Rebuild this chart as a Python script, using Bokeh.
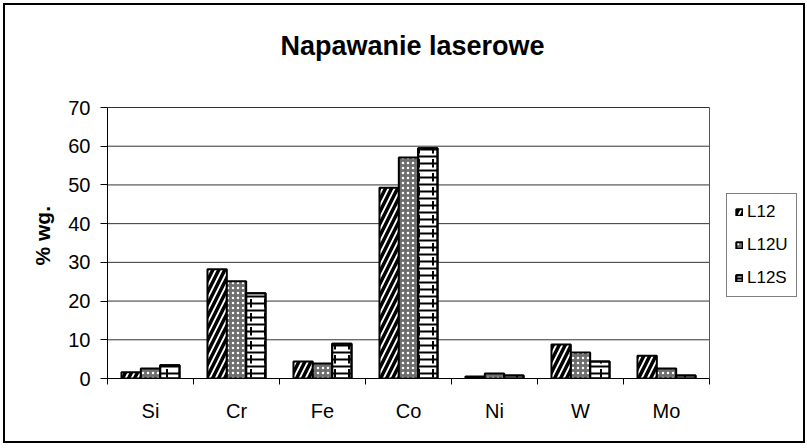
from bokeh.plotting import figure
from bokeh.layouts import column
from bokeh.models import (ColumnDataSource, FixedTicker, CustomJSTickFormatter,
                          Legend, LegendItem, Range1d, Label)
from bokeh.transform import dodge
from bokeh.embed import file_html
from bokeh.resources import INLINE

categories = ["Si", "Cr", "Fe", "Co", "Ni", "W", "Mo"]
l12 = [1.6, 28.2, 4.4, 49.3, 0.5, 8.8, 5.9]
l12u = [2.6, 25.1, 3.9, 57.1, 1.3, 6.7, 2.6]
l12s = [3.4, 22.0, 9.0, 59.5, 0.8, 4.4, 0.8]
series_names = ["L12", "L12U", "L12S"]
y_ticks = [0, 10, 20, 30, 40, 50, 60, 70]
title_text = "Napawanie laserowe"
y_label = "% wg."

FONT = "Liberation Sans"
N = len(categories)
Y_MAX = y_ticks[-1]

src = ColumnDataSource(dict(
    x=[i + 0.5 for i in range(N)],
    cat=categories, l12=l12, l12u=l12u, l12s=l12s,
))
grid_src = ColumnDataSource(dict(y=y_ticks, x0=[0] * len(y_ticks), x1=[N] * len(y_ticks)))

W, H = 798, 436
LEFT, TOP, BOTTOM, RIGHT = 102, 0, 63, 4
frame_w = W - LEFT - RIGHT
frame_h = H - TOP - BOTTOM
plot_w, plot_h = 602, 271  # pixel size of the category/value area
x_end = N * frame_w / plot_w
y_end = Y_MAX * frame_h / plot_h

p = figure(width=W, height=H, output_backend="svg", toolbar_location=None,
           title=None,
           x_range=Range1d(0, x_end), y_range=Range1d(0, y_end),
           min_border_left=LEFT, min_border_right=RIGHT, min_border_top=TOP,
           min_border_bottom=BOTTOM)

# grid lines and right edge of the plot area, limited to the value area
p.segment(x0="x0", x1="x1", y0="y", y1="y", source=grid_src,
          line_color="#333333", line_width=1)
p.segment(x0=[N], x1=[N], y0=[0], y1=[Y_MAX], line_color="#555555", line_width=1)

bw = 0.225
r1 = p.vbar(x=dodge("x", -bw, range=p.x_range), top="l12", width=bw, source=src,
            fill_color="white", line_color="black", line_width=2,
            hatch_pattern="right_diagonal_line", hatch_color="black",
            hatch_scale=12, hatch_weight=3.5)
r2 = p.vbar(x=dodge("x", 0, range=p.x_range), top="l12u", width=bw, source=src,
            fill_color="#6e6e6e", line_color="black", line_width=2,
            hatch_pattern="dot", hatch_color="white", hatch_scale=5, hatch_weight=1)
r3 = p.vbar(x=dodge("x", bw, range=p.x_range), top="l12s", width=bw, source=src,
            fill_color="white", line_color="black", line_width=2,
            hatch_pattern="horizontal_line", hatch_color="black",
            hatch_scale=7, hatch_weight=2)
r3b = p.vbar(x=dodge("x", bw, range=p.x_range), top="l12s", width=bw, source=src,
             fill_alpha=0, line_color="black", line_width=2,
             hatch_pattern="vertical_dash", hatch_color="black",
             hatch_scale=14, hatch_weight=2)

# axes
p.xaxis.ticker = FixedTicker(ticks=[i + 0.5 for i in range(N)],
                             minor_ticks=list(range(N + 1)))
p.xaxis.formatter = CustomJSTickFormatter(args=dict(cats=categories),
                                          code="return cats[Math.floor(tick)] || '';")
p.xaxis.bounds = (0, N)
p.xaxis.major_tick_out = 0
p.xaxis.major_tick_in = 0
p.xaxis.minor_tick_out = 6
p.xaxis.minor_tick_in = 0
p.xaxis.major_label_standoff = 15
p.yaxis.ticker = FixedTicker(ticks=y_ticks)
p.yaxis.bounds = (0, Y_MAX)
p.yaxis.major_tick_out = 7
p.yaxis.major_tick_in = 0
p.yaxis.major_label_standoff = 10
# trailing no-break spaces shift the rotated label down to the value area's centre
p.yaxis.axis_label = y_label + "\u00a0" * 15
p.yaxis.axis_label_text_font_style = "bold"
p.yaxis.axis_label_standoff = 11
for ax in (p.xaxis, p.yaxis):
    ax.axis_line_color = "black"
    ax.axis_line_width = 1
    ax.major_tick_line_color = "black"
    ax.major_label_text_font = FONT
    ax.major_label_text_font_size = "20px"
    ax.major_label_text_color = "black"
    ax.axis_label_text_font = FONT
    ax.axis_label_text_font_size = "21px"
    ax.axis_label_text_color = "black"
p.xaxis.minor_tick_line_color = "black"
p.yaxis.minor_tick_line_color = None

p.xgrid.grid_line_color = None
p.ygrid.grid_line_color = None
p.outline_line_color = None
p.background_fill_color = "white"
p.border_fill_color = "white"

# chart title, placed in screen units above the value area
p.add_layout(Label(x=305, y=333, x_units="screen", y_units="screen",
                   text=title_text, text_align="center",
                   text_baseline="alphabetic", text_font=FONT,
                   text_font_size="27px", text_font_style="bold",
                   text_color="black"))

legend = Legend(items=[
    LegendItem(label=series_names[0], renderers=[r1]),
    LegendItem(label=series_names[1], renderers=[r2]),
    LegendItem(label=series_names[2], renderers=[r3, r3b]),
], location=(619, 81))
legend.label_text_font = FONT
legend.label_text_font_size = "17px"
legend.label_text_color = "black"
legend.glyph_width = 8
legend.glyph_height = 8
legend.spacing = 13
legend.padding = 8
legend.margin = 0
legend.label_standoff = 4
legend.border_line_color = "black"
legend.border_line_width = 1
legend.background_fill_alpha = 1
p.add_layout(legend, "center")

layout = column(p, styles={"border": "2px solid black", "margin-left": "3px",
                           "margin-top": "3px", "background": "white"})

open("out.html", "w").write(file_html(layout, INLINE))
